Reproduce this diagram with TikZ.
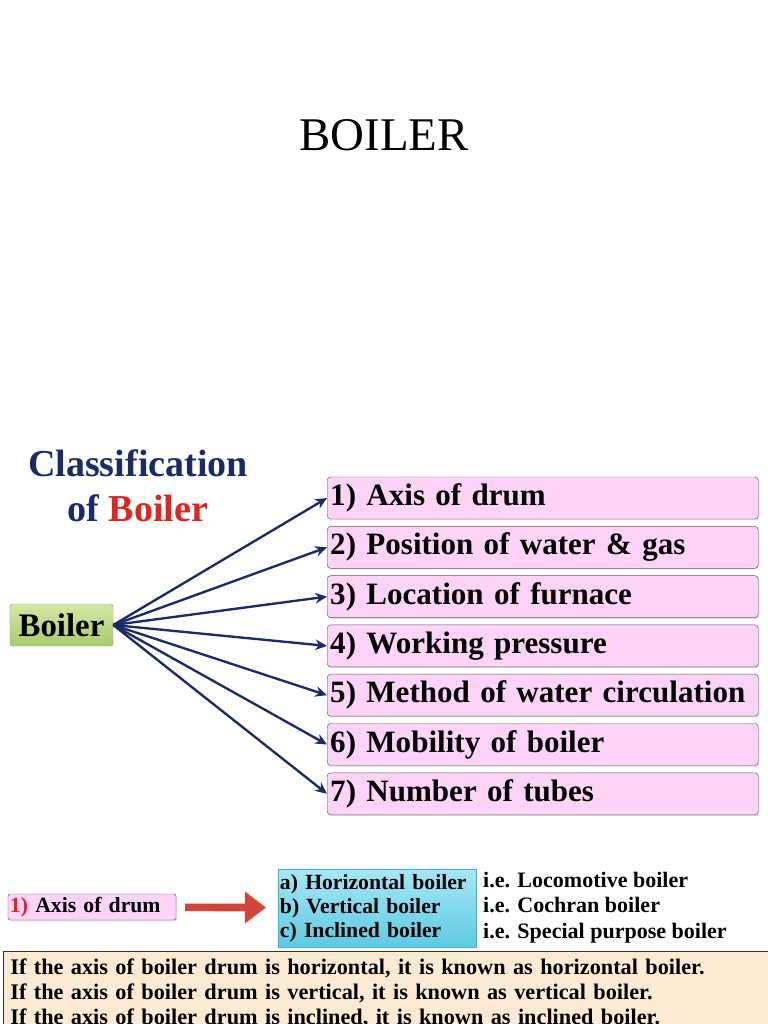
\documentclass[tikz,border=0pt]{standalone}
\usepackage{fontspec}
\setmainfont{Liberation Serif}
\usetikzlibrary{positioning, arrows.meta, shadows}

\definecolor{navy}{HTML}{1A2A6A}
\definecolor{titlered}{HTML}{E3231F}
\definecolor{pinkfill}{HTML}{FDD3F8}
\definecolor{boxedge}{HTML}{5A5A5A}
\definecolor{greentop}{HTML}{D3E8A6}
\definecolor{greenbot}{HTML}{A9C96C}
\definecolor{greenedge}{HTML}{8FAE55}
\definecolor{cyandark}{HTML}{3AB4D2}
\definecolor{cyanmid}{HTML}{5ECAE3}
\definecolor{cyanlight}{HTML}{A6E7F4}
\definecolor{notefill}{HTML}{FCEBD2}
\definecolor{arrowred}{HTML}{D2443A}

\begin{document}
\begin{tikzpicture}[x=0.03cm, y=-0.03cm,
        class/.style={draw=boxedge, fill=pinkfill, rounded corners=3pt, minimum width=12.93cm, minimum height=1.26cm, text width=12.75cm, inner xsep=0.09cm, inner ysep=0pt, align=left, anchor=west, font=\fontsize{26.5}{30}\selectfont\bfseries, drop shadow={opacity=0.25, shadow xshift=1pt, shadow yshift=-1pt}},
        root/.style={draw=greenedge, top color=greentop, bottom color=greenbot, rounded corners=2pt, minimum width=3.09cm, minimum height=1.26cm, inner sep=0pt, font=\fontsize{28}{32}\selectfont\bfseries},
        conn/.style={draw=navy, line width=2pt, -{Stealth[length=10pt, width=9pt]}},
        kindbox/.style={draw=cyandark, top color=cyanlight, bottom color=cyanmid, minimum width=5.94cm, minimum height=2.34cm, text width=5.82cm, inner xsep=0.06cm, align=left, font=\fontsize{18.5}{20.4}\selectfont\bfseries},
        plain/.style={inner sep=0pt, align=left, font=\fontsize{18.8}{21.7}\selectfont\bfseries},
        bigarrow/.style={draw=arrowred, line width=6.5pt, -{Triangle[length=18pt, width=26pt]}, shorten <=7.6pt, shorten >=10pt}
    ]
        \useasboundingbox (0,0) rectangle (768,1024);
        \clip (0,0) rectangle (768,1024);
        \fill[white] (0,0) rectangle (768,1024);

        % Title and heading
        \node[font=\fontsize{40}{44}\selectfont] (title) at (384,135) {BOILER};
        \node[align=center, text=navy, font=\fontsize{32.5}{38}\selectfont\bfseries] (heading) at (138,486) {Classification\\of \textcolor{titlered}{Boiler}};

        % Root and the seven classes
        \node[root] (boiler) at (61.5,625) {Boiler};
        \foreach \i/\txt in {1/{1) Axis of drum}, 2/{2) Position of water \& gas}, 3/{3) Location of furnace}, 4/{4) Working pressure}, 5/{5) Method of water circulation}, 6/{6) Mobility of boiler}, 7/{7) Number of tubes}} {
            \node[class] (cls\i) at (327, 448.7 + 49.3*\i) {\txt};
            \draw[conn] (boiler.east) -- (cls\i.west);
        }

        % Axis of drum detail
        \node[draw=boxedge, fill=pinkfill, rounded corners=2pt, minimum width=5.04cm, minimum height=0.78cm, text width=4.92cm, inner xsep=0.06cm, inner ysep=0pt, align=left, font=\fontsize{18.5}{21}\selectfont\bfseries, drop shadow={opacity=0.25, shadow xshift=1pt, shadow yshift=-1pt}] (axis) at (92,907) {\textcolor{titlered}{1)} Axis of drum};
        \node[kindbox] (kinds) at (377,908) {a) Horizontal boiler\\b) Vertical boiler\\c) Inclined boiler};
        \node[plain, anchor=west] (examples) at (483,907.5) {i.e. Locomotive boiler\\i.e. Cochran boiler\\i.e. Special purpose boiler};
        \draw[bigarrow] (axis) -- (kinds);

        % Explanation
        \node[draw=black!80, line width=1.2pt, fill=notefill, anchor=north west, minimum width=22.86cm, text width=22.6cm, inner xsep=0.2cm, inner ysep=6pt, align=left, font=\fontsize{19}{21.3}\selectfont\bfseries] (note) at (3,951) {If the axis of boiler drum is horizontal, it is known as horizontal boiler.\\If the axis of boiler drum is vertical, it is known as vertical boiler.\\If the axis of boiler drum is inclined, it is known as inclined boiler.\\~};
    \end{tikzpicture}
\end{document}
